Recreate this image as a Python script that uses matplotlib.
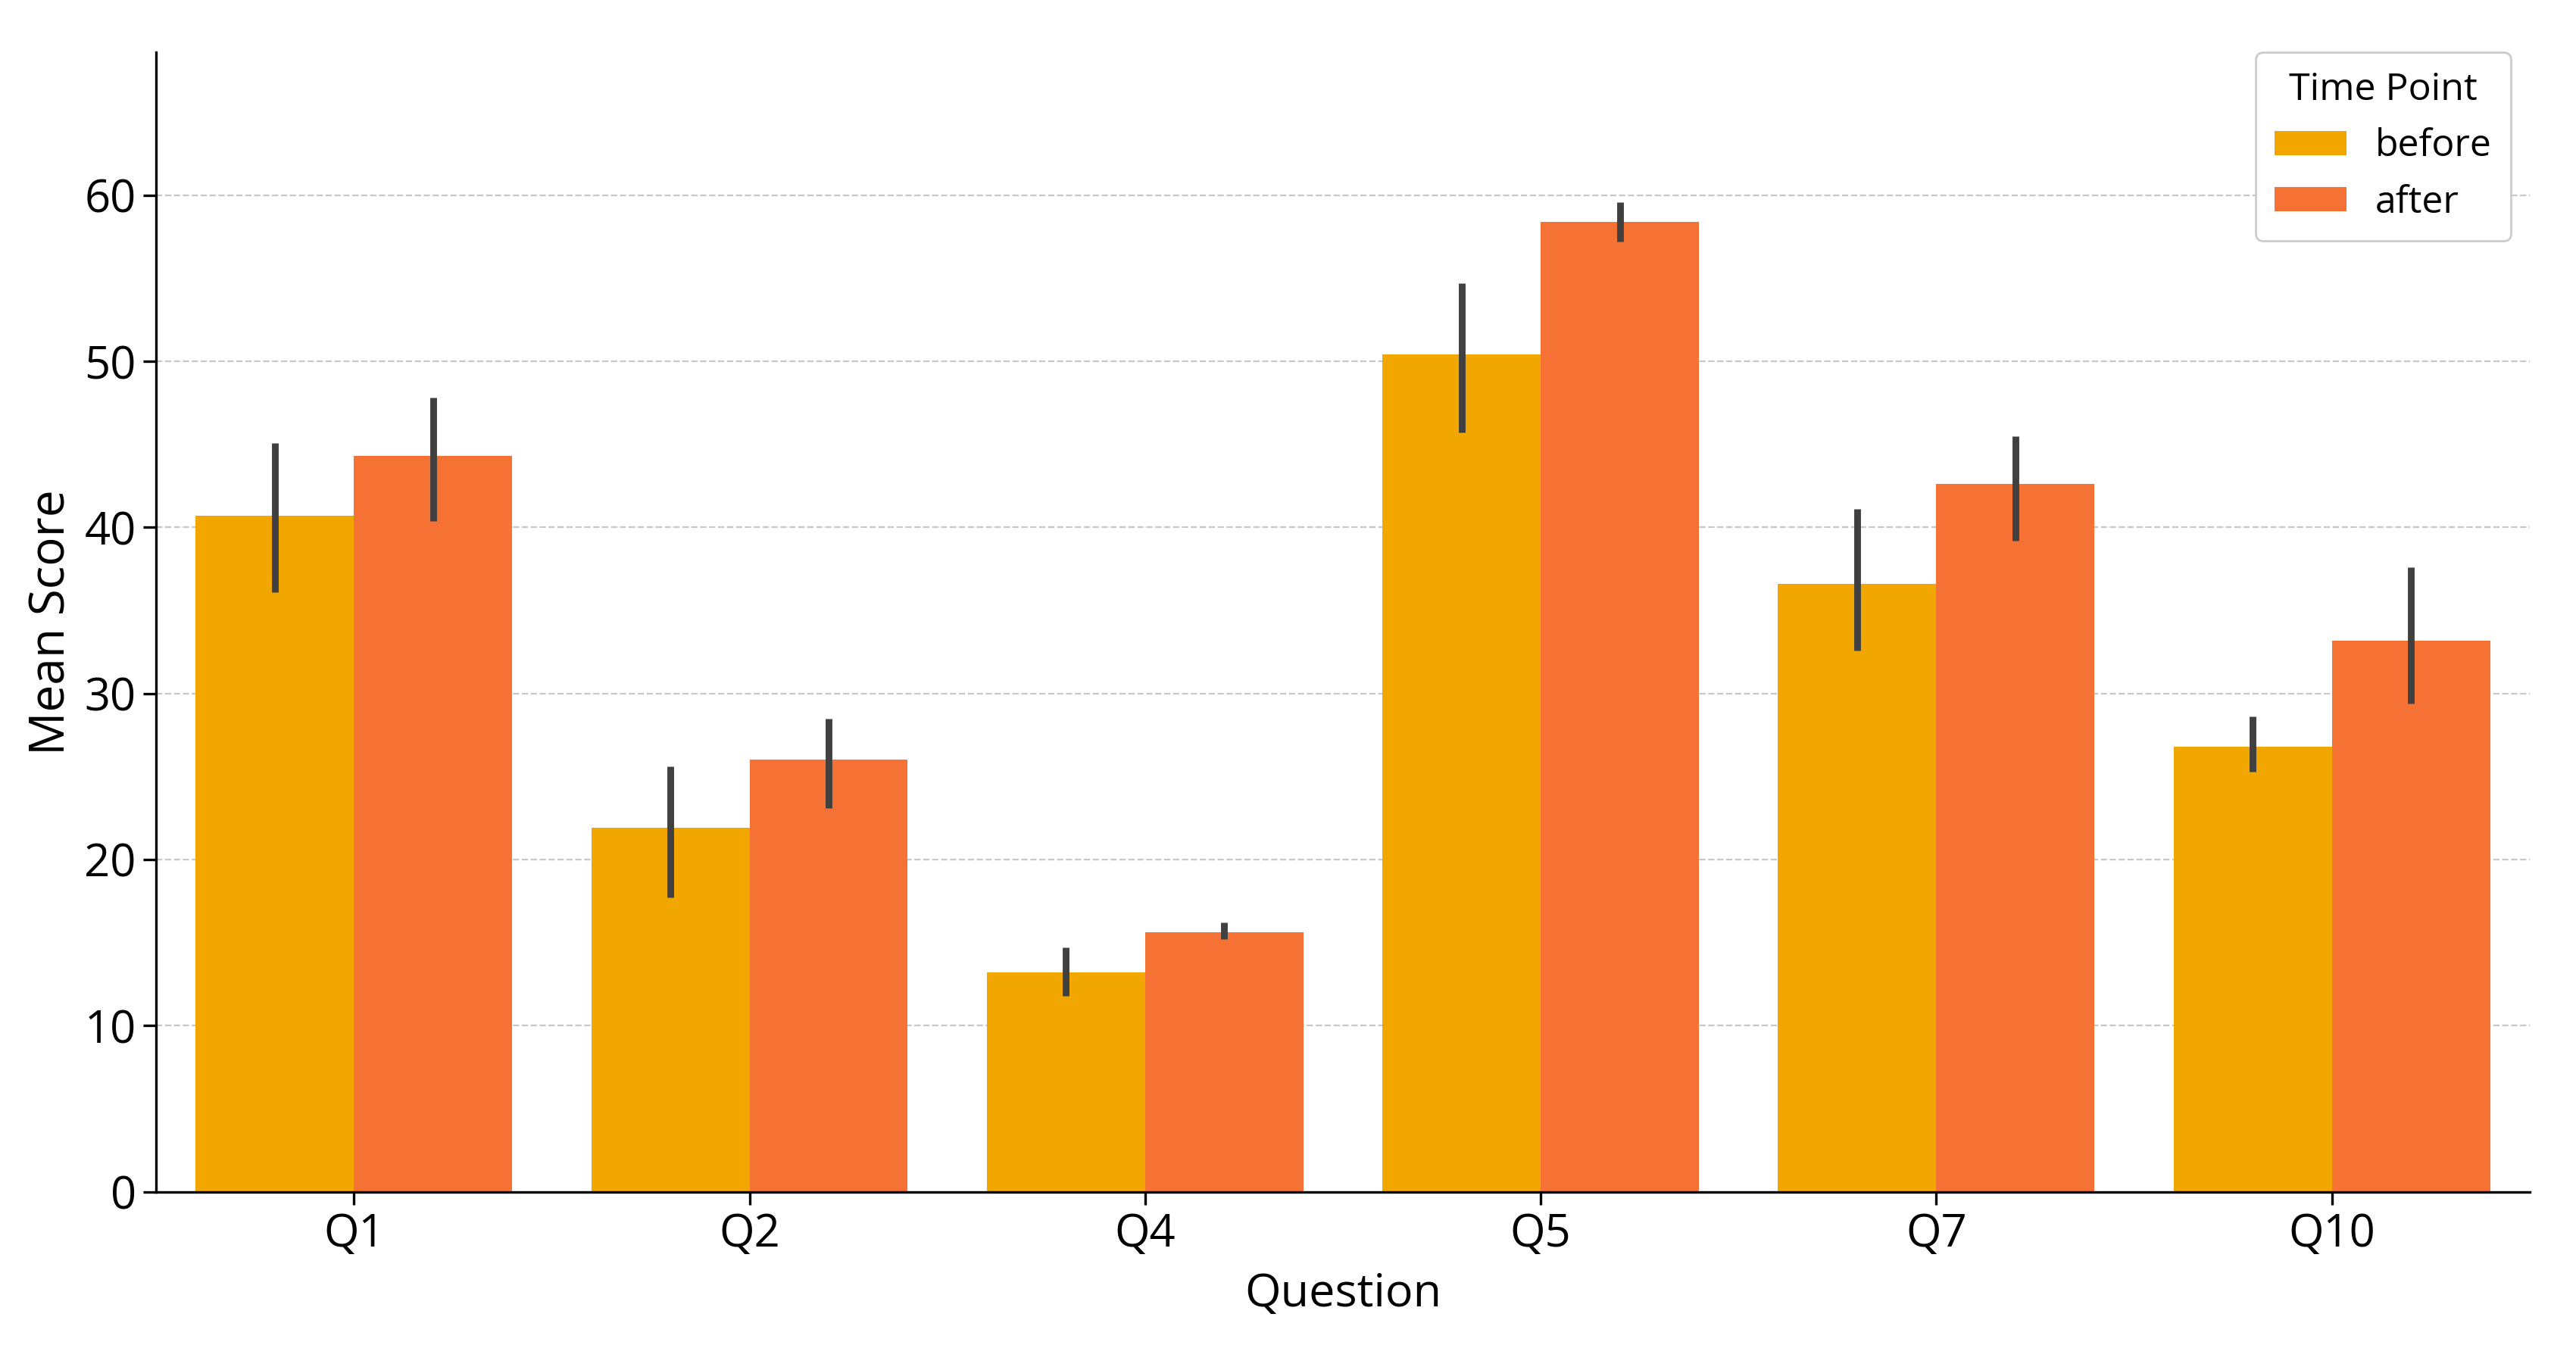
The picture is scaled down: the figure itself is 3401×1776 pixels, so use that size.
import numpy as np
import matplotlib
matplotlib.use("Agg")
import matplotlib.pyplot as plt

questions = ["Q1", "Q2", "Q4", "Q5", "Q7", "Q10"]
before_mean = [40.7, 21.9, 13.2, 50.4, 36.6, 26.8]
before_low = [36.1, 17.7, 11.8, 45.7, 32.6, 25.3]
before_high = [45.1, 25.6, 14.7, 54.7, 41.1, 28.6]
after_mean = [44.3, 26.0, 15.6, 58.4, 42.6, 33.2]
after_low = [40.4, 23.1, 15.2, 57.2, 39.2, 29.4]
after_high = [47.8, 28.5, 16.2, 59.6, 45.5, 37.6]

plt.rcParams['font.family'] = ['Open Sans', 'DejaVu Sans']

fig = plt.figure(figsize=(17.005, 8.88), dpi=200)
ax = fig.add_axes([0.0606, 0.114, 0.9214, 0.847])

x = np.arange(len(questions))
width = 0.4
color_before = '#F2A600'
color_after = '#F57234'

def plot_group(offset, mean, low, high, color, label):
    mean = np.array(mean)
    yerr = [mean - np.array(low), np.array(high) - mean]
    ax.bar(x + offset, mean, width, color=color, label=label, zorder=2)
    ax.errorbar(x + offset, mean, yerr=yerr, fmt='none', ecolor='#404040',
                elinewidth=3.2, capsize=0, zorder=3)

plot_group(-width / 2, before_mean, before_low, before_high, color_before, 'before')
plot_group(width / 2, after_mean, after_low, after_high, color_after, 'after')

ax.set_xlim(-0.5, len(questions) - 0.5)
ax.set_ylim(0, 68.6)
ax.set_xticks(x)
ax.set_xticklabels(questions)
ax.set_yticks([0, 10, 20, 30, 40, 50, 60])
ax.tick_params(labelsize=21.5, length=6, width=1.2)
ax.set_xlabel('Question', fontsize=22, labelpad=7)
ax.set_ylabel('Mean Score', fontsize=23, labelpad=4)

ax.yaxis.grid(True, linestyle='--', color='#c8c8c8', linewidth=0.8, zorder=0)
ax.set_axisbelow(True)
for side in ['top', 'right']:
    ax.spines[side].set_visible(False)
for side in ['left', 'bottom']:
    ax.spines[side].set_linewidth(1.2)

leg = ax.legend(title='Time Point', loc='upper right', fontsize=18, title_fontsize=18,
                bbox_to_anchor=(1.0, 1.0166), handlelength=1.9, handleheight=0.6,
                handletextpad=0.75, borderpad=0.5, framealpha=1.0, edgecolor='#cccccc')

fig.savefig('out.png', dpi=200)
